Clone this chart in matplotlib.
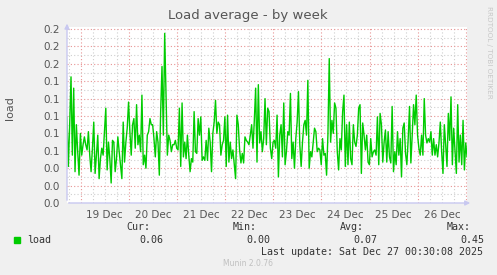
import numpy as np
import matplotlib
matplotlib.use("Agg")
import matplotlib.pyplot as plt

# load average, one sample every 40 minutes, first sample ~6.8 h before 19 Dec 00:00
load = [
    0.099, 0.042, 0.090, 0.145, 0.055, 0.132, 0.036, 0.090, 0.059, 0.032,
    0.080, 0.055, 0.067, 0.076, 0.067, 0.061, 0.082, 0.055, 0.036, 0.063,
    0.093, 0.034, 0.055, 0.078, 0.028, 0.051, 0.063, 0.055, 0.082, 0.109,
    0.038, 0.070, 0.051, 0.023, 0.072, 0.070, 0.036, 0.051, 0.076, 0.059,
    0.044, 0.028, 0.093, 0.047, 0.070, 0.086, 0.116, 0.082, 0.055, 0.090,
    0.097,
    0.063, 0.113, 0.067, 0.078, 0.059, 0.124, 0.044, 0.055, 0.040, 0.078,
    0.082, 0.097, 0.090, 0.090, 0.074, 0.053, 0.082, 0.070, 0.032, 0.105,
    0.157, 0.078, 0.195, 0.124, 0.055, 0.078, 0.072, 0.059, 0.067, 0.067,
    0.072, 0.063, 0.061, 0.109, 0.042, 0.115, 0.053, 0.070, 0.051, 0.078,
    0.055, 0.036, 0.051, 0.047, 0.105, 0.059, 0.057, 0.097, 0.078, 0.099,
    0.049, 0.053, 0.049, 0.072, 0.049, 0.086, 0.070, 0.036, 0.080, 0.093,
    0.118, 0.080, 0.093, 0.090, 0.055, 0.067, 0.072, 0.099, 0.042, 0.101,
    0.047, 0.070, 0.051, 0.061, 0.044, 0.028, 0.101, 0.090, 0.061, 0.046,
    0.057, 0.046, 0.076, 0.072, 0.070, 0.067, 0.078, 0.090, 0.063, 0.095,
    0.132, 0.047, 0.136, 0.069, 0.082, 0.059, 0.074, 0.120, 0.067, 0.109,
    0.105, 0.063, 0.051, 0.070, 0.072, 0.063, 0.101, 0.030, 0.078, 0.090,
    0.053, 0.115, 0.044, 0.059, 0.082, 0.078, 0.126, 0.051, 0.070, 0.040,
    0.074, 0.093, 0.128, 0.067, 0.042, 0.070, 0.090, 0.095, 0.078, 0.141,
    0.040, 0.059, 0.053, 0.070, 0.086, 0.082, 0.059, 0.063, 0.061, 0.044,
    0.074, 0.055, 0.057, 0.032, 0.078, 0.166, 0.070, 0.095, 0.080, 0.115,
    0.109,
    0.059, 0.038, 0.074, 0.061, 0.105, 0.124, 0.042, 0.090, 0.044, 0.093,
    0.051, 0.044, 0.090, 0.070, 0.065, 0.078, 0.109, 0.113, 0.034, 0.092,
    0.078, 0.061, 0.078, 0.047, 0.044, 0.074, 0.053, 0.059, 0.061, 0.055,
    0.099, 0.044, 0.103, 0.090, 0.047, 0.070, 0.084, 0.047, 0.082, 0.053,
    0.046, 0.111, 0.036, 0.059, 0.044, 0.082, 0.055, 0.074, 0.030, 0.086,
    0.092,
    0.057, 0.044, 0.074, 0.111, 0.046, 0.078, 0.113, 0.090, 0.124, 0.078,
    0.063, 0.055, 0.078, 0.055, 0.120, 0.078, 0.069, 0.074, 0.070, 0.082,
    0.055, 0.074, 0.055, 0.067, 0.053, 0.069, 0.093, 0.059, 0.034, 0.090,
    0.067, 0.042, 0.103, 0.072, 0.122, 0.044, 0.086, 0.059, 0.034, 0.113,
    0.047, 0.078, 0.044, 0.095, 0.038, 0.069, 0.053,
]
start_hour = -6.8
step_hours = 2 / 3
end_hour = 192.5

day_labels = ["19 Dec", "20 Dec", "21 Dec", "22 Dec",
              "23 Dec", "24 Dec", "25 Dec", "26 Dec"]
y_ticks = [0.00, 0.02, 0.04, 0.06, 0.08, 0.10, 0.12, 0.14, 0.16, 0.18, 0.20]

stat_names = ["Cur:", "Min:", "Avg:", "Max:"]
stat_values = ["0.06", "0.00", "0.07", "0.45"]
last_update = "Last update: Sat Dec 27 00:30:08 2025"

W, H = 497, 275
BG = "#F0F0F0"
TXT = "#555555"
GREEN = "#00CC00"
MAJOR = "#E89494"
MINOR = "#CFCFCF"
AXIS = "#C8C8F0"

hours = start_hour + np.arange(len(load)) * step_hours

fig = plt.figure(figsize=(W / 100, H / 100), dpi=100, facecolor=BG)
ax = fig.add_axes([67 / W, 1 - 203 / H, 400 / W, 176 / H])
ax.set_facecolor("white")
ax.set_xlim(start_hour, end_hour)
ax.set_ylim(0, 0.2 * 176 / 174)
for s in ax.spines.values():
    s.set_visible(False)

# grid: gray every 6 h / 0.01, red at midnight / 0.02
for h in np.arange(-6, end_hour, 6):
    col = MAJOR if h % 24 == 0 else MINOR
    ax.axvline(h, color=col, lw=0.8, ls=(0, (1, 2)), zorder=1)
for v in np.arange(0.01, 0.205, 0.01):
    col = MAJOR if round(v * 100) % 2 == 0 else MINOR
    ax.axhline(v, color=col, lw=0.8, ls=(0, (1, 2)), zorder=1)

ax.plot(hours, load, color=GREEN, lw=1.0, zorder=3)

ax.set_yticks(y_ticks)
ax.set_yticklabels(["%.1f" % v for v in y_ticks])
ax.set_xticks([12 + 24 * k for k in range(len(day_labels))])
ax.set_xticklabels(day_labels)
ax.tick_params(length=0, labelsize=7.5, colors=TXT, pad=5)

# axis lines with arrows
ax.annotate("", xy=(0, 1.035), xytext=(0, 0), xycoords="axes fraction",
            arrowprops=dict(arrowstyle="-|>", color=AXIS, lw=1, mutation_scale=7),
            annotation_clip=False)
ax.annotate("", xy=(1.015, 0), xytext=(-0.003, 0), xycoords="axes fraction",
            arrowprops=dict(arrowstyle="-|>", color=AXIS, lw=1, mutation_scale=7),
            annotation_clip=False)

fig.text(248 / W, 1 - 15 / H, "Load average - by week", ha="center", va="center",
         fontsize=9.5, color=TXT)
fig.text(10 / W, 1 - 108 / H, "load", rotation=90, ha="center", va="center",
         fontsize=8, color=TXT)
fig.text(489 / W, 1 - 52 / H, "RRDTOOL / TOBI OETIKER", rotation=270,
         ha="center", va="center", fontsize=5.2, color="#C8C8C8")

mono = "DejaVu Sans Mono"
fig.patches.append(plt.Rectangle((14 / W, 1 - 243 / H), 6 / W, 6 / H,
                                 transform=fig.transFigure, color=GREEN))
fig.text(27 / W, 1 - 240 / H, "load", family=mono, fontsize=7.2, color="#333333",
         va="center")
for k, (name, val) in enumerate(zip(stat_names, stat_values)):
    xr = 163 + 107 * k
    fig.text((xr - 13) / W, 1 - 227 / H, name, family=mono, fontsize=7.2,
             color="#333333", ha="right", va="center")
    fig.text(xr / W, 1 - 240 / H, val, family=mono, fontsize=7.2,
             color="#333333", ha="right", va="center")
fig.text(483 / W, 1 - 252 / H, last_update, family=mono, fontsize=7.2,
         color="#333333", ha="right", va="center")
fig.text(248 / W, 1 - 264 / H, "Munin 2.0.76", fontsize=5.5, color="#C0C0C0",
         ha="center", va="center")

fig.savefig("out.png", dpi=100, facecolor=BG)
